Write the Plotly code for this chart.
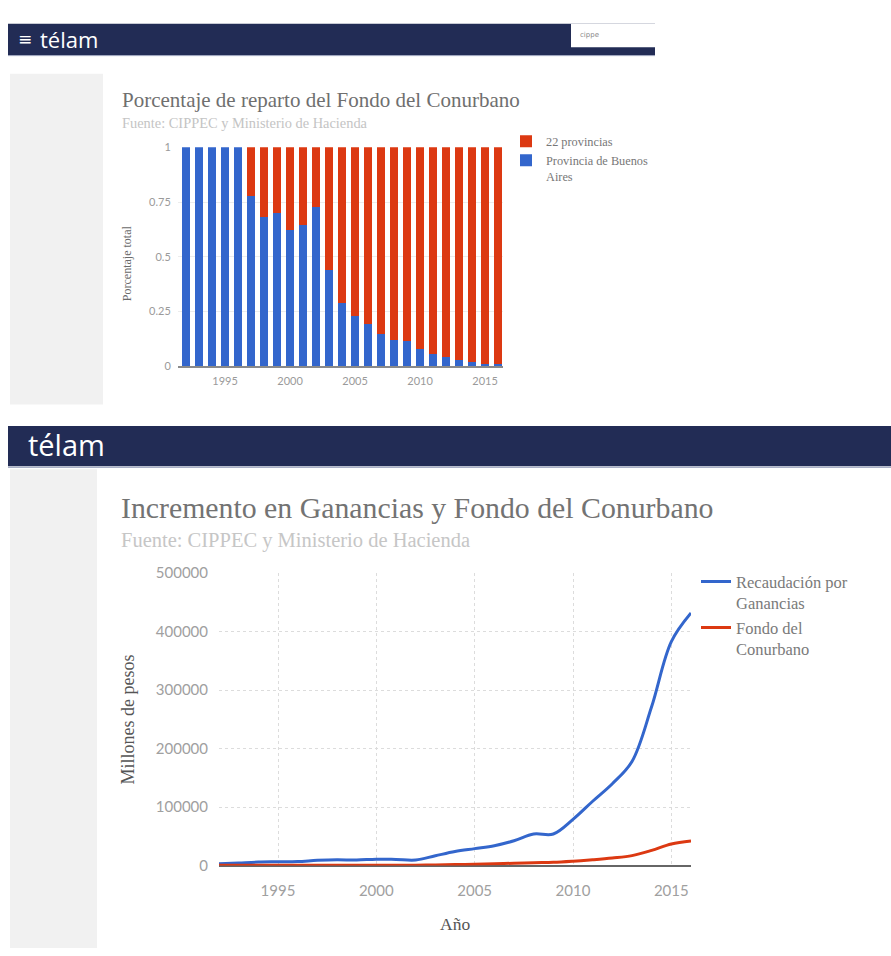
import plotly.graph_objects as go

W, H = 891, 956

# ---------------- data ----------------
years = list(range(1992, 2017))
pba_share = [1, 1, 1, 1, 1, 0.778, 0.681, 0.702, 0.621, 0.644, 0.728, 0.439, 0.289,
             0.229, 0.192, 0.148, 0.118, 0.114, 0.079, 0.054, 0.042, 0.028, 0.021, 0.012, 0.012]
prov22_share = [0, 0, 0, 0, 0, 0.222, 0.319, 0.298, 0.379, 0.356, 0.272, 0.561, 0.711,
                0.771, 0.808, 0.852, 0.882, 0.886, 0.921, 0.946, 0.958, 0.972, 0.979, 0.988, 0.988]
ganancias = [3000, 4500, 6000, 6500, 7000, 9000, 10000, 9500, 11000, 10500, 9500, 16800, 24000,
             29000, 34000, 42500, 54000, 54000, 79000, 110000, 140000, 178000, 272000, 383000, 432000]
fondo = [650, 650, 650, 650, 650, 650, 650, 650, 650, 650, 650, 1200, 1800,
         2300, 3000, 4000, 5000, 5600, 7500, 10000, 13000, 17000, 26000, 37000, 42000]

top_yticks = [0, 0.25, 0.5, 0.75, 1]
top_yticklabels = ["0", "0.25", "0.5", "0.75", "1"]
xticks = [1995, 2000, 2005, 2010, 2015]
bot_yticks = [0, 100000, 200000, 300000, 400000, 500000]
bot_yticklabels = ["0", "100000", "200000", "300000", "400000", "500000"]

BLUE = "#3366cc"
RED = "#dc3912"
NAVY = "#222c55"
SERIF = "Liberation Serif, Times New Roman, serif"
SANS = "Lato, Open Sans, sans-serif"


def px(x):
    return x / W


def py(y):
    return 1 - y / H


fig = go.Figure()

# top stacked bars
fig.add_trace(go.Bar(x=years, y=pba_share, name="Provincia de Buenos<br>Aires",
                     marker=dict(color=BLUE, line=dict(width=0)),
                     xaxis="x", yaxis="y", legend="legend", legendrank=2))
fig.add_trace(go.Bar(x=years, y=prov22_share, name="22 provincias",
                     marker=dict(color=RED, line=dict(width=0)),
                     xaxis="x", yaxis="y", legend="legend", legendrank=1))

# bottom lines
fig.add_trace(go.Scatter(x=years, y=ganancias, name="Recaudación por<br>Ganancias", mode="lines",
                         line=dict(color=BLUE, width=3, shape="spline", smoothing=1.0),
                         xaxis="x2", yaxis="y2", legend="legend2"))
fig.add_trace(go.Scatter(x=years, y=fondo, name="Fondo del<br>Conurbano", mode="lines",
                         line=dict(color=RED, width=3, shape="spline", smoothing=1.0),
                         xaxis="x2", yaxis="y2", legend="legend2"))

shapes = []
# top header bar
shapes.append(dict(type="rect", xref="paper", yref="paper", x0=px(8), x1=px(655), y0=py(46), y1=py(14),
                   fillcolor=NAVY, line=dict(width=0), layer="below"))
shapes.append(dict(type="rect", xref="paper", yref="paper", x0=px(571), x1=px(655), y0=py(38), y1=py(14),
                   fillcolor="white", line=dict(width=0), layer="below"))
shapes.append(dict(type="line", xref="paper", yref="paper", x0=px(8), x1=px(655), y0=py(46.5), y1=py(46.5),
                   line=dict(color="#9aa2bb", width=1), layer="below"))
# bottom header bar
shapes.append(dict(type="rect", xref="paper", yref="paper", x0=px(8), x1=px(891), y0=py(465), y1=py(424),
                   fillcolor=NAVY, line=dict(width=0), layer="below"))
shapes.append(dict(type="line", xref="paper", yref="paper", x0=px(8), x1=px(891), y0=py(466), y1=py(466),
                   line=dict(color="#a9b0c6", width=1.5), layer="below"))
# grey side strips
shapes.append(dict(type="rect", xref="paper", yref="paper", x0=px(10), x1=px(103), y0=py(402), y1=py(65),
                   fillcolor="#f1f1f1", line=dict(width=0), layer="below"))
shapes.append(dict(type="rect", xref="paper", yref="paper", x0=px(10), x1=px(97), y0=py(956), y1=py(468),
                   fillcolor="#f1f1f1", line=dict(width=0), layer="below"))

annotations = []


def txt(x, y, s, size, color, family, xanchor="left", yanchor="middle", textangle=0):
    annotations.append(dict(x=px(x), y=py(y), xref="paper", yref="paper", text=s, showarrow=False,
                            xanchor=xanchor, yanchor=yanchor, textangle=textangle,
                            font=dict(size=size, color=color, family=family)))


# header texts
txt(16, 30, "≡", 17, "white", "DejaVu Sans")
txt(38, 30, "télam", 22, "white", "Open Sans")
txt(578, 25, "cippe", 7, "#888888", "DejaVu Sans")
txt(26, 443, "télam", 29, "white", "Open Sans")

# top chart texts
txt(120, 92, "Porcentaje de reparto del Fondo del Conurbano", 21, "#6f6f6f", SERIF)
txt(120, 115, "Fuente: CIPPEC y Ministerio de Hacienda", 14.4, "#c4c4c4", SERIF)
txt(127, 258, "Porcentaje total", 12, "#6a6a6a", SERIF, xanchor="center", textangle=-90)

# bottom chart texts
txt(119, 507, "Incremento en Ganancias y Fondo del Conurbano", 29.8, "#737373", SERIF)
txt(119, 541, "Fuente: CIPPEC y Ministerio de Hacienda", 20.5, "#c6c6c6", SERIF)
txt(128, 723, "Millones de pesos", 18, "#555555", SERIF, xanchor="center", textangle=-90)
txt(455, 932, "Año", 17.5, "#555555", SERIF, xanchor="center")

fig.update_layout(
    width=W, height=H,
    margin=dict(l=0, r=0, t=0, b=0),
    paper_bgcolor="white", plot_bgcolor="white",
    barmode="stack", bargap=0.36,
    shapes=shapes, annotations=annotations,
    xaxis=dict(domain=[px(178), px(503)], anchor="y", range=[1991.38, 2016.38],
               tickvals=xticks, ticktext=[str(v) for v in xticks],
               tickfont=dict(size=11, color="#9a9a9a", family=SANS),
               ticks="outside", ticklen=4, tickcolor="rgba(0,0,0,0)",
               showgrid=False, zeroline=False, showline=True, linecolor="#8a8a8a", linewidth=2),
    yaxis=dict(domain=[py(363), py(140)], anchor="x", range=[0, 1],
               tickvals=top_yticks, ticktext=top_yticklabels,
               tickfont=dict(size=11, color="#9a9a9a", family=SANS),
               ticks="outside", ticklen=4, tickcolor="rgba(0,0,0,0)",
               showgrid=True, gridcolor="#ececec", gridwidth=1, zeroline=False, showline=False),
    xaxis2=dict(domain=[px(219), px(691)], anchor="y2", range=[1992, 2016],
                tickvals=xticks, ticktext=[str(v) for v in xticks],
                tickfont=dict(size=15, color="#a0a0a0", family=SANS),
                ticks="outside", ticklen=11, tickcolor="rgba(0,0,0,0)",
                showgrid=True, gridcolor="#dcdcdc", gridwidth=1, griddash="dot",
                zeroline=False, showline=False),
    yaxis2=dict(domain=[py(872), py(574)], anchor="x2", range=[0, 500000],
                tickvals=bot_yticks, ticktext=bot_yticklabels,
                tickfont=dict(size=15, color="#a0a0a0", family=SANS),
                ticks="outside", ticklen=7, tickcolor="rgba(0,0,0,0)",
                showgrid=True, gridcolor="#dcdcdc", gridwidth=1, griddash="dot",
                zeroline=True, zerolinecolor="#666666", zerolinewidth=2, showline=False),
    legend=dict(x=px(506), y=py(119), xanchor="left", yanchor="top", valign="top",
                font=dict(size=12.3, color="#777777", family=SERIF),
                bgcolor="rgba(0,0,0,0)", tracegroupgap=0, itemwidth=30, traceorder="normal"),
    legend2=dict(x=px(696), y=py(565), xanchor="left", yanchor="top", valign="top",
                 font=dict(size=16.5, color="#7a7a7a", family=SERIF),
                 bgcolor="rgba(0,0,0,0)", itemwidth=30),
    showlegend=True,
)

fig.write_html("out.html")
